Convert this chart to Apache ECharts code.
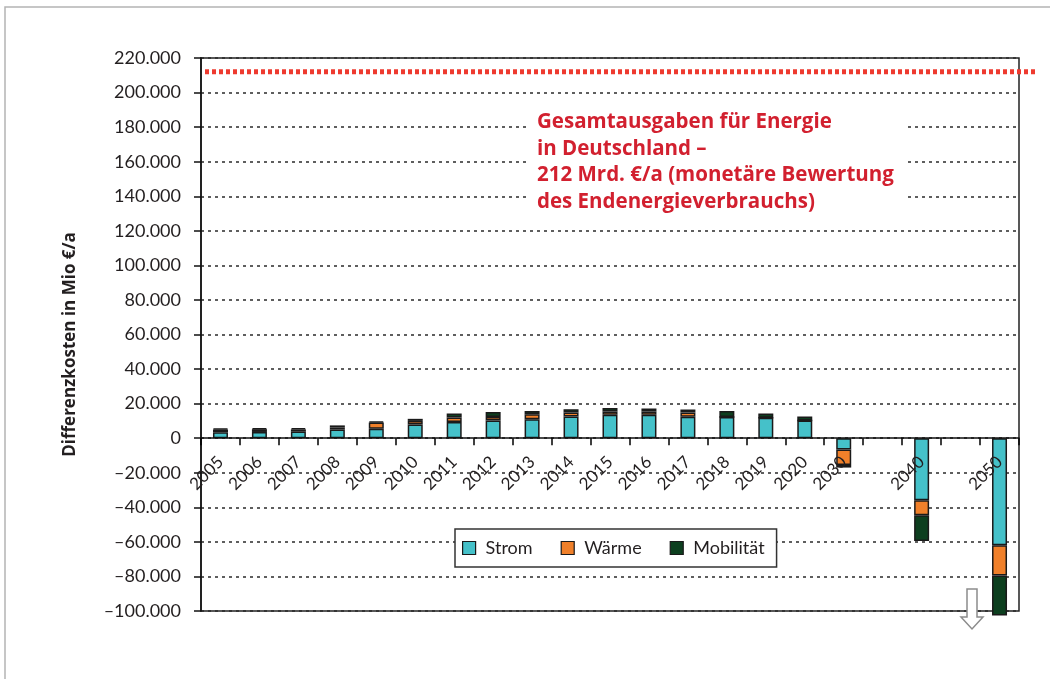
<!DOCTYPE html>
<html>
<head>
<meta charset="utf-8">
<title>Differenzkosten</title>
<script src="https://cdn.jsdelivr.net/npm/echarts@6/dist/echarts.min.js"></script>
<style>
  html, body { margin: 0; padding: 0; background: #fff; }
  #chart { width: 1050px; height: 679px; }
</style>
</head>
<body>
<div id="chart"></div>
<script>
// Jahre (leere Einträge = Lücke zwischen den Stützjahren)
const categories = ['2005','2006','2007','2008','2009','2010','2011','2012','2013','2014',
  '2015','2016','2017','2018','2019','2020','2030','','2040','','2050'];

// Differenzkosten in Mio €/a je Sektor
const strom = [3500, 3600, 3800, 5000, 5400, 7900, 9300, 10200, 11000, 12600,
  13500, 13500, 12400, 12300, 11800, 10200, -6500, null, -35900, null, -62000];
const waerme = [1500, 1600, 1300, 1200, 3700, 2100, 2600, 2100, 2900, 2300,
  2000, 1900, 2500, 0, 0, 0, -9000, null, -8700, null, -17400];
const mobilitaet = [500, 600, 700, 1200, 600, 1200, 2400, 2900, 1900, 1900,
  1900, 1800, 1700, 3500, 2500, 2300, -1500, null, -14900, null, -23200];

// Gesamtausgaben für Energie in Deutschland (Mio €/a)
const gesamtausgaben = 212000;

const yMin = -100000, yMax = 220000, yStep = 20000;

const FONT = 'Lato';
const TEXT = '#231f20';

const GRID_TOP = 58, GRID_BOTTOM = 68, CHART_H = 679;
// Abstand der Nulllinie vom unteren Rand des Diagramms
const plotH = CHART_H - GRID_TOP - GRID_BOTTOM;
const zeroOffset = -plotH * (0 - yMin) / (yMax - yMin);

function fmt(v) {
  const s = Math.abs(v).toString().replace(/\B(?=(\d{3})+(?!\d))/g, '.');
  return v < 0 ? '\u2013' + s : s;
}

const chart = echarts.init(document.getElementById('chart'), null, { renderer: 'canvas' });

const barBorder = { borderColor: '#1a1a1a', borderWidth: 1.5 };

chart.setOption({
  animation: false,
  backgroundColor: '#fff',
  textStyle: { fontFamily: FONT },
  grid: [
    { left: 201, right: 31, top: GRID_TOP, bottom: GRID_BOTTOM, show: true, borderColor: '#222', borderWidth: 1.5, backgroundColor: 'transparent' },
    { left: 205, right: 15, top: GRID_TOP, bottom: GRID_BOTTOM }
  ],
  xAxis: [
    {
      type: 'category', gridIndex: 0, data: categories, z: 10,
      offset: zeroOffset,
      axisLine: { onZero: false, lineStyle: { color: '#111', width: 1.5 } },
      axisTick: { show: true, interval: 0, length: 7, lineStyle: { color: '#000', width: 1.5 } },
      axisLabel: { interval: 0, rotate: 45, margin: 21, fontFamily: FONT, fontSize: 17, color: TEXT }
    },
    { type: 'value', gridIndex: 1, min: 0, max: 1, show: false }
  ],
  yAxis: [
    {
      type: 'value', gridIndex: 0, min: yMin, max: yMax, interval: yStep,
      name: 'Differenzkosten in Mio €/a', nameLocation: 'middle', nameGap: 122,
      nameTextStyle: { fontFamily: 'Open Sans', fontSize: 17, fontWeight: 'bold', color: TEXT, padding: [0, 20, 0, 0] },
      axisLine: { show: true, lineStyle: { color: '#111', width: 1.5 } },
      axisTick: { show: true, length: 7, lineStyle: { color: '#111', width: 1.5 } },
      axisLabel: { margin: 20, fontFamily: FONT, fontSize: 18, color: TEXT, formatter: fmt },
      splitLine: { show: true, lineStyle: { color: '#2a2a2a', width: 1.5, type: [3, 4] } }
    },
    { type: 'value', gridIndex: 1, min: yMin, max: yMax, show: false }
  ],
  legend: {
    left: 455, top: 529,
    data: ['Strom', 'Wärme', 'Mobilität'],
    icon: 'rect', itemWidth: 13, itemHeight: 13, itemGap: 28,
    padding: [10, 12, 10, 7],
    backgroundColor: '#fff', borderColor: '#333', borderWidth: 1.5,
    itemStyle: { borderColor: '#1a1a1a', borderWidth: 1.2 },
    textStyle: { fontFamily: FONT, fontSize: 18, color: TEXT, padding: [0, 0, 0, 5] }
  },
  series: [
    { name: 'Strom', type: 'bar', stack: 'kosten', data: strom, barWidth: 15, clip: false,
      itemStyle: Object.assign({ color: '#45c1c9' }, barBorder) },
    { name: 'Wärme', type: 'bar', stack: 'kosten', data: waerme, barWidth: 15, clip: false,
      itemStyle: Object.assign({ color: '#f0802a' }, barBorder) },
    { name: 'Mobilität', type: 'bar', stack: 'kosten', data: mobilitaet, barWidth: 15, clip: false,
      itemStyle: Object.assign({ color: '#0d3f1f' }, barBorder) },
    { name: 'Gesamtausgaben', type: 'line', xAxisIndex: 1, yAxisIndex: 1, z: 5,
      data: [[0, gesamtausgaben], [1, gesamtausgaben]], symbol: 'none', silent: true,
      lineStyle: { color: '#ee3a2f', width: 5, type: [4, 3] } }
  ],
  graphic: [
    // Rahmen um die Abbildung
    { type: 'rect', z: 0, silent: true,
      shape: { x: 5, y: 7, width: 1100, height: 700 },
      style: { fill: 'none', stroke: '#b4b4b4', lineWidth: 1.5 } },
    // Textfeld mit weißem Hintergrund
    { type: 'rect', z: 4, silent: true,
      shape: { x: 530, y: 102, width: 376, height: 112 },
      style: { fill: '#fff' } },
    { type: 'text', z: 6, silent: true, left: 537, top: 109,
      style: {
        text: 'Gesamtausgaben für Energie\nin Deutschland –\n212 Mrd. €/a (monetäre Bewertung\ndes Endenergieverbrauchs)',
        font: 'bold 20.5px "Open Sans"', lineHeight: 26.5, fill: '#d2202f'
      } },
    // Pfeil nach unten (Wert reicht über die Achse hinaus)
    { type: 'polygon', z: 6, silent: true,
      shape: { points: [[967, 589], [977, 589], [977, 617], [983, 617], [972, 629], [961, 617], [967, 617]] },
      style: { fill: '#fff', stroke: '#8c8c8c', lineWidth: 1.5 } }
  ]
});
</script>
</body>
</html>
